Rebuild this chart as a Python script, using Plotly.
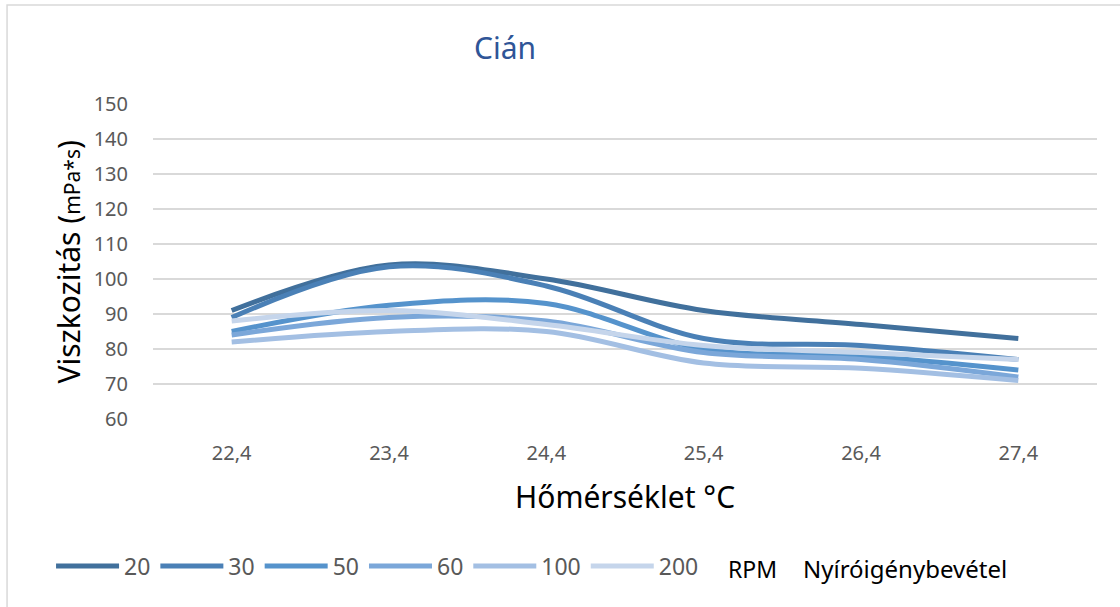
import plotly.graph_objects as go

# Temperature categories (°C) and viscosity readings (mPa*s) per spindle speed
temperatures = ["22,4", "23,4", "24,4", "25,4", "26,4", "27,4"]
rpm_20 = [91, 104, 100, 91, 87, 83]
rpm_30 = [89, 103.5, 98, 83, 81, 77]
rpm_50 = [85, 92.5, 93, 80, 78, 74]
rpm_60 = [84, 89, 88, 79, 77, 72]
rpm_100 = [82, 85, 85, 76, 74.5, 71]
rpm_200 = [88, 91, 87, 81, 79, 77]

series = [
    ("20", rpm_20, "#41709C"),
    ("30", rpm_30, "#4A80B6"),
    ("50", rpm_50, "#5593CC"),
    ("60", rpm_60, "#7BA7D9"),
    ("100", rpm_100, "#A3BFE3"),
    ("200", rpm_200, "#C5D5EB"),
]

FONT = "Noto Sans"
fig = go.Figure()
for name, vals, color in series:
    fig.add_trace(go.Scatter(
        x=temperatures, y=vals, name=name, mode="lines",
        line=dict(color=color, width=5, shape="spline", smoothing=1.0),
    ))

fig.update_layout(
    width=1120, height=607,
    margin=dict(l=153, r=23, t=104, b=188),
    paper_bgcolor="white", plot_bgcolor="white",
    font=dict(family=FONT, color="#595959"),
    showlegend=True,
    legend=dict(
        orientation="h", x=-0.108, xanchor="left", y=-0.467, yanchor="middle",
        font=dict(family=FONT, size=23, color="#595959"),
        itemwidth=63, tracegroupgap=0,
    ),
    xaxis=dict(
        type="category", range=[-0.5, 5.5], showgrid=False, zeroline=False, showline=False,
        ticks="outside", ticklen=16, tickcolor="rgba(0,0,0,0)",
        tickfont=dict(family=FONT, size=20, color="#595959"),
    ),
    yaxis=dict(
        range=[60, 150], dtick=10, showgrid=True, gridcolor="#D9D9D9", gridwidth=1.5,
        zeroline=False, showline=False,
        ticks="outside", ticklen=20, tickcolor="rgba(0,0,0,0)",
        tickfont=dict(family=FONT, size=20, color="#595959"),
    ),
    shapes=[dict(
        type="rect", xref="paper", yref="paper",
        x0=-0.1546, x1=1.2, y0=-0.8, y1=1.314,
        line=dict(color="#D9D9D9", width=1.5), fillcolor="rgba(0,0,0,0)", layer="below",
    )],
    annotations=[
        dict(text="Cián", xref="paper", yref="paper", x=0.3729, y=1.178,
             xanchor="center", yanchor="middle", showarrow=False,
             font=dict(family=FONT, size=30, color="#2F5597")),
        dict(text="Hőmérséklet °C", xref="paper", yref="paper", x=0.5, y=-0.2476,
             xanchor="center", yanchor="middle", showarrow=False,
             font=dict(family=FONT, size=30, color="#000000")),
        dict(text="Viszkozitás (<span style='font-size:21px'>mPa*s</span>)",
             xref="paper", yref="paper", x=-0.09, y=0.5, textangle=-90,
             xanchor="center", yanchor="middle", showarrow=False,
             font=dict(family=FONT, size=30, color="#000000")),
        dict(text="RPM", xref="paper", yref="paper", x=(726 - 153) / 944, y=-0.476,
             xanchor="left", yanchor="middle", showarrow=False,
             font=dict(family=FONT, size=23, color="#000000")),
        dict(text="Nyíróigénybevétel", xref="paper", yref="paper", x=(801 - 153) / 944, y=-0.476,
             xanchor="left", yanchor="middle", showarrow=False,
             font=dict(family=FONT, size=24, color="#000000")),
    ],
)

fig.write_html("out.html")
